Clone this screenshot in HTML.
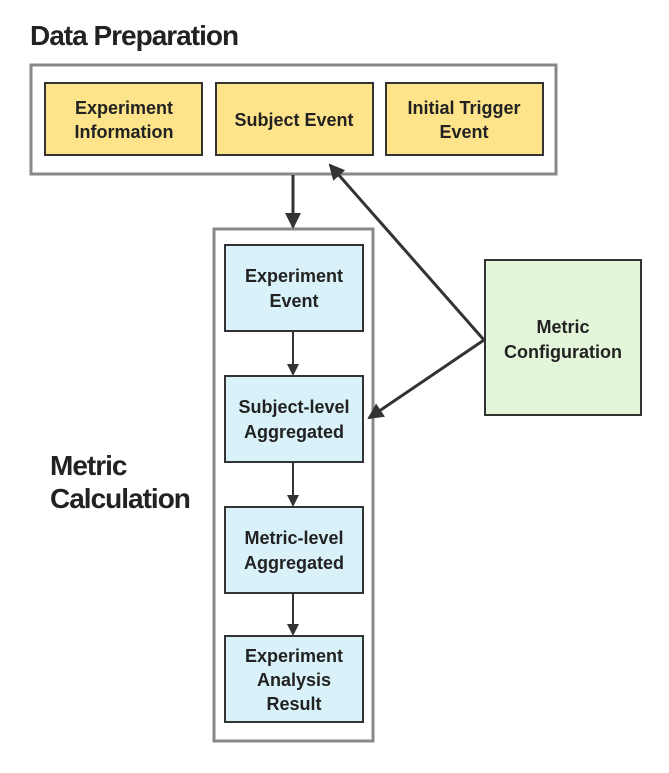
<!DOCTYPE html>
<html><head><meta charset="utf-8"><style>
body{margin:0;background:#fff;width:669px;height:768px;overflow:hidden;font-family:"Liberation Sans","Noto Sans CJK KR",sans-serif}
</style></head><body>
<svg width="669" height="768" viewBox="0 0 669 768" xmlns="http://www.w3.org/2000/svg">
<defs><marker id="a" markerWidth="12" markerHeight="12" refX="10" refY="6" orient="auto" markerUnits="userSpaceOnUse" viewBox="0 0 12 12"><path d="M0,0 L12,6 L0,12 z" fill="#333"/></marker>
<marker id="b" markerWidth="16" markerHeight="16" refX="14" refY="8" orient="auto" markerUnits="userSpaceOnUse" viewBox="0 0 16 16"><path d="M0,0 L16,8 L0,16 z" fill="#333"/></marker></defs>
<g font-family="Liberation Sans, sans-serif" fill="#222" font-weight="bold">
<text x="30" y="45" font-size="28" letter-spacing="-1">Data Preparation</text>
<text x="50" y="475" font-size="28" letter-spacing="-1">Metric</text>
<text x="50" y="508" font-size="28" letter-spacing="-1">Calculation</text>
</g>
<rect x="31" y="65" width="525" height="109" fill="none" stroke="#888" stroke-width="3"/>
<rect x="214" y="229" width="159" height="512" fill="none" stroke="#888" stroke-width="3"/>
<g stroke="#333" stroke-width="2">
<rect x="45" y="83" width="157" height="72" fill="#fde38a"/>
<rect x="216" y="83" width="157" height="72" fill="#fde38a"/>
<rect x="386" y="83" width="157" height="72" fill="#fde38a"/>
<rect x="225" y="245" width="138" height="86" fill="#d9f2fa"/>
<rect x="225" y="376" width="138" height="86" fill="#d9f2fa"/>
<rect x="225" y="507" width="138" height="86" fill="#d9f2fa"/>
<rect x="225" y="636" width="138" height="86" fill="#d9f2fa"/>
<rect x="485" y="260" width="156" height="155" fill="#e3f6d9"/>
</g>
<g stroke="#333" stroke-width="3" fill="none">
<line x1="293" y1="175" x2="293" y2="227" marker-end="url(#b)"/>
<line x1="484" y1="340" x2="330" y2="165" marker-end="url(#b)"/>
<line x1="484" y1="340" x2="369" y2="418" marker-end="url(#b)"/>
</g>
<g stroke="#333" stroke-width="2">
<line x1="293" y1="332" x2="293" y2="374" marker-end="url(#a)"/>
<line x1="293" y1="463" x2="293" y2="505" marker-end="url(#a)"/>
<line x1="293" y1="594" x2="293" y2="634" marker-end="url(#a)"/>
</g>
<g font-family="Liberation Sans, sans-serif" font-size="18" font-weight="bold" fill="#222" text-anchor="middle">
<text x="124" y="114">Experiment</text><text x="124" y="138">Information</text>
<text x="294" y="126">Subject Event</text>
<text x="464" y="114">Initial Trigger</text><text x="464" y="138">Event</text>
<text x="294" y="282">Experiment</text><text x="294" y="307">Event</text>
<text x="294" y="413">Subject-level</text><text x="294" y="438">Aggregated</text>
<text x="294" y="544">Metric-level</text><text x="294" y="569">Aggregated</text>
<text x="294" y="662">Experiment</text><text x="294" y="686">Analysis</text><text x="294" y="710">Result</text>
<text x="563" y="333">Metric</text><text x="563" y="358">Configuration</text>
</g>
</svg>
</body></html>
